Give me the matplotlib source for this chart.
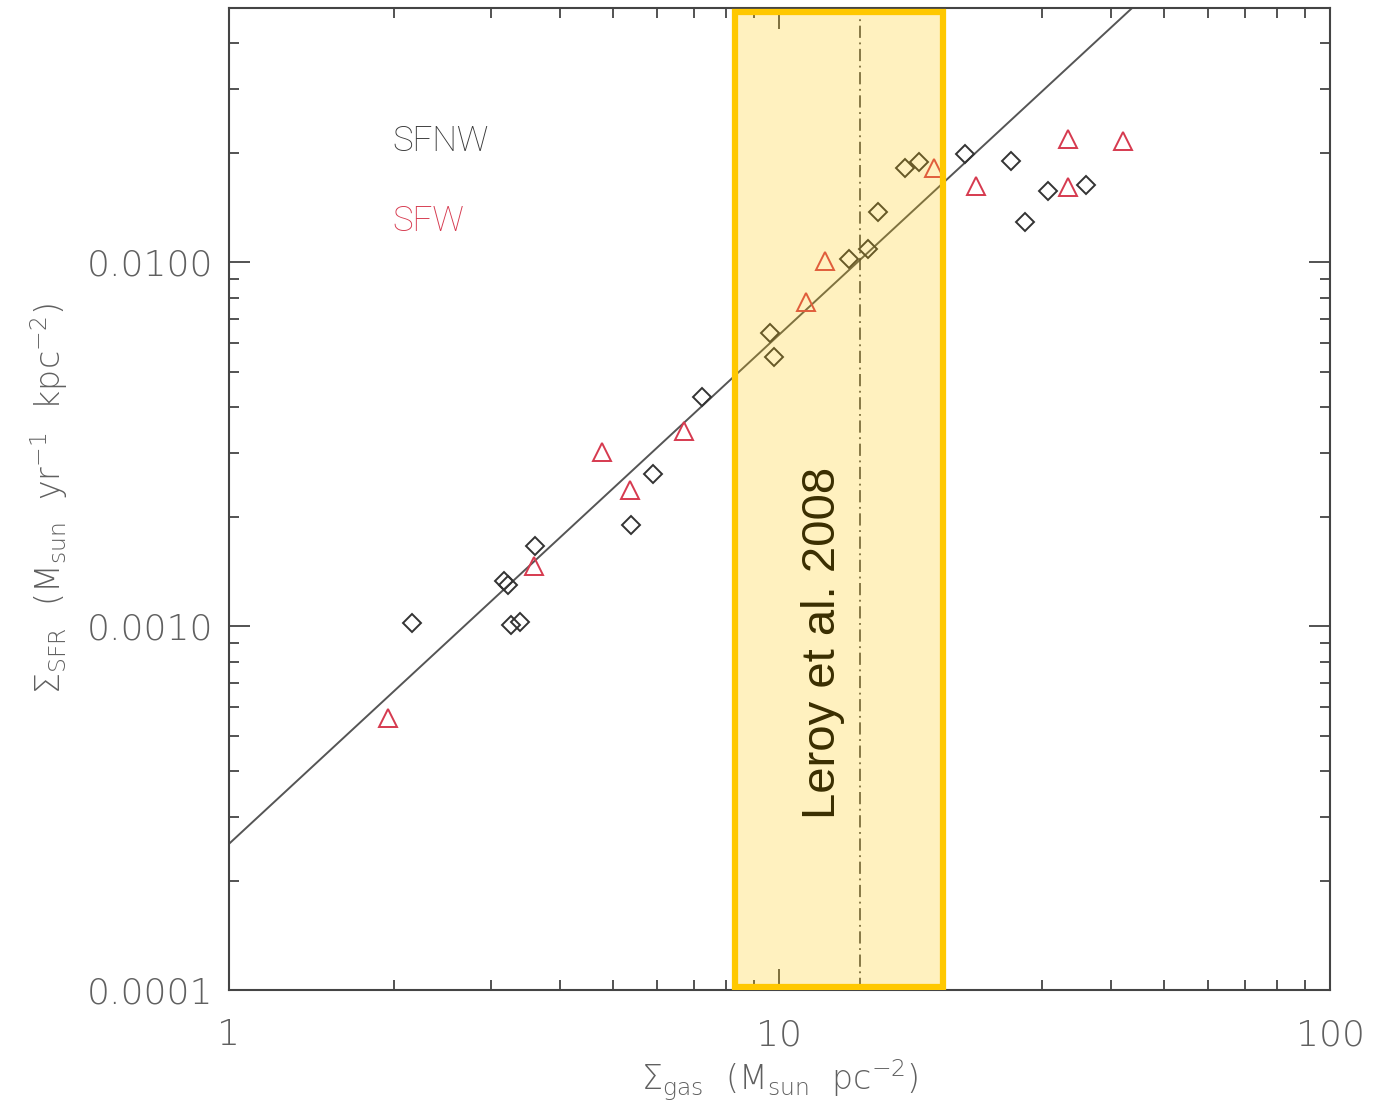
import matplotlib
matplotlib.use("Agg")
import numpy as np
import matplotlib.pyplot as plt
from matplotlib.patches import Rectangle
from matplotlib.ticker import FixedLocator, NullFormatter, LogLocator

# SFNW (black diamonds)
sfnw_gas = [2.15, 3.16, 3.22, 3.26, 3.38, 3.60, 5.39, 5.89, 7.24, 9.63, 9.77,
            13.4, 14.5, 15.1, 16.9, 17.9, 21.7, 26.4, 27.9, 30.7, 36.0]
sfnw_sfr = [1.02e-3, 1.33e-3, 1.30e-3, 1.01e-3, 1.03e-3, 1.66e-3, 1.90e-3, 2.62e-3,
            4.26e-3, 6.41e-3, 5.49e-3, 1.02e-2, 1.09e-2, 1.37e-2, 1.81e-2, 1.89e-2,
            1.98e-2, 1.90e-2, 1.29e-2, 1.57e-2, 1.63e-2]

# SFW (red triangles)
sfw_gas = [1.95, 3.59, 4.76, 5.35, 6.71, 11.2, 12.1, 19.1, 22.8, 33.5, 33.4, 42.0]
sfw_sfr = [5.59e-4, 1.46e-3, 3.01e-3, 2.37e-3, 3.44e-3, 7.78e-3, 1.01e-2, 1.82e-2,
           1.62e-2, 1.61e-2, 2.18e-2, 2.15e-2]

# power-law fit: sfr = A * gas^N
fit_A = 2.52e-4
fit_N = 1.40

# Leroy et al. 2008 range and marker
leroy_lo, leroy_hi = 8.3, 19.8
leroy_line = 14.0

xticks = [1, 10, 100]
xtick_labels = ["1", "10", "100"]
yticks = [1e-4, 1e-3, 1e-2]
ytick_labels = ["0.0001", "0.0010", "0.0100"]

plt.rcParams["font.family"] = ["DejaVu Sans"]
plt.rcParams["mathtext.fontset"] = "dejavusans"
plt.rcParams["mathtext.default"] = "regular"

label_col = "#606060"
axis_col = "#444444"

fig = plt.figure(figsize=(13.75, 11.07), dpi=100)
ax = fig.add_axes([0.1662, 0.1053, 0.8011, 0.8877])
ax.set_xscale("log")
ax.set_yscale("log")
ax.set_xlim(1, 100)
ax.set_ylim(1e-4, 0.05)

# fit line
xf = np.logspace(0, 2, 200)
ax.plot(xf, fit_A * xf ** fit_N, color="#555555", lw=1.4, zorder=2)

ax.plot(sfnw_gas, sfnw_sfr, linestyle="none", marker="D", ms=9, mfc="none",
        mec="#333333", mew=1.4, zorder=3)
ax.plot(sfw_gas, sfw_sfr, linestyle="none", marker="^", ms=13, mfc="none",
        mec="#d63a4f", mew=1.4, zorder=3)

ax.axvline(leroy_line, color="#333333", lw=1.1, linestyle=(0, (8, 3, 1.2, 3)), zorder=2)

# translucent highlight box
trans = ax.get_xaxis_transform()
box = Rectangle((leroy_lo, 0.004), leroy_hi - leroy_lo, 0.992, transform=trans,
                facecolor=(1.0, 0.79, 0.0, 0.25), edgecolor="#ffc800", lw=4.5, zorder=4)
ax.add_patch(box)
ax.text(12.0, 0.354, "Leroy et al. 2008", transform=trans, rotation=90,
        ha="center", va="center", fontsize=34, family="Liberation Sans",
        color="#3a2e00", zorder=5)

ax.text(0.149, 0.864, "SFNW", transform=ax.transAxes, fontsize=25,
        color="#3a3a3a", va="center", ha="left", family="Roboto", fontweight="light")
ax.text(0.149, 0.783, "SFW", transform=ax.transAxes, fontsize=25,
        color="#d63a4f", va="center", ha="left", family="Roboto", fontweight="light")

ax.xaxis.set_major_locator(FixedLocator(xticks))
ax.set_xticklabels(xtick_labels)
ax.yaxis.set_major_locator(FixedLocator(yticks))
ax.set_yticklabels(ytick_labels)
ax.xaxis.set_minor_locator(LogLocator(base=10, subs=np.arange(2, 10)))
ax.yaxis.set_minor_locator(LogLocator(base=10, subs=np.arange(2, 10)))
ax.xaxis.set_minor_formatter(NullFormatter())
ax.yaxis.set_minor_formatter(NullFormatter())

ax.tick_params(which="both", direction="in", top=True, right=True,
               color=axis_col, width=1.3)
ax.tick_params(which="major", length=15)
ax.tick_params(which="minor", length=7)
ax.tick_params(axis="x", which="major", pad=20, labelsize=26, labelcolor=label_col)
ax.tick_params(axis="y", which="major", pad=11, labelsize=26, labelcolor=label_col)
for lab in ax.get_xticklabels() + ax.get_yticklabels():
    lab.set_fontweight("light")

for sp in ax.spines.values():
    sp.set_color(axis_col)
    sp.set_linewidth(1.5)

ax.set_xlabel(r"$\Sigma_{gas}$  (M$_{sun}$  pc$^{-2}$)", fontsize=24,
              color=label_col, labelpad=4, fontweight="light")
ax.set_ylabel(r"$\Sigma_{SFR}$  (M$_{sun}$  yr$^{-1}$  kpc$^{-2}$)", fontsize=24,
              color=label_col, labelpad=12, fontweight="light")

fig.savefig("out.png", dpi=100)
